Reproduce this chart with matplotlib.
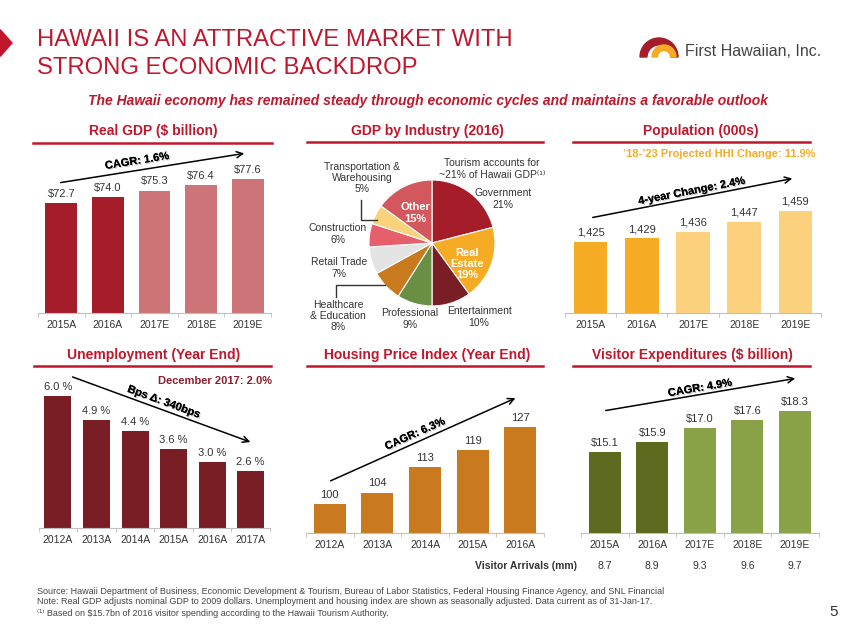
import numpy as np
import matplotlib
matplotlib.use('Agg')
import matplotlib.pyplot as plt
from matplotlib.patches import Polygon, Wedge, FancyArrowPatch
from matplotlib.lines import Line2D
import matplotlib.patheffects as pe

plt.rcParams['font.family'] = ['Liberation Sans', 'DejaVu Sans']
NARROW = ['Liberation Sans Narrow', 'Liberation Sans', 'DejaVu Sans']

##############################  DATA  ##############################
gdp_years = ['2015A', '2016A', '2017E', '2018E', '2019E']
gdp_vals = [72.7, 74.0, 75.3, 76.4, 77.6]

industry_names = ['Government', 'Real Estate', 'Entertainment', 'Professional',
                  'Healthcare & Education', 'Retail Trade', 'Construction',
                  'Transportation & Warehousing', 'Other']
industry_pct = [21, 19, 10, 9, 8, 7, 6, 5, 15]

pop_years = ['2015A', '2016A', '2017E', '2018E', '2019E']
pop_vals = [1425, 1429, 1436, 1447, 1459]

unemp_years = ['2012A', '2013A', '2014A', '2015A', '2016A', '2017A']
unemp_vals = [6.0, 4.9, 4.4, 3.6, 3.0, 2.6]

hpi_years = ['2012A', '2013A', '2014A', '2015A', '2016A']
hpi_vals = [100, 104, 113, 119, 127]

visitor_years = ['2015A', '2016A', '2017E', '2018E', '2019E']
visitor_exp = [15.1, 15.9, 17.0, 17.6, 18.3]
visitor_arrivals = [8.7, 8.9, 9.3, 9.6, 9.7]

##############################  STYLE  ##############################
RED = '#C0172C'
TXT = '#333333'
W, H = 847, 635

fig = plt.figure(figsize=(W / 100, H / 100), dpi=100)
fig.patch.set_facecolor('white')


def fx(x):
    return x / W


def fy(y):
    return 1 - y / H


def add_ax(x0, y0, x1, y1):
    return fig.add_axes([x0 / W, 1 - y1 / H, (x1 - x0) / W, (y1 - y0) / H])


def panel_title(text, xc, y, x0, x1, yl):
    fig.text(fx(xc), fy(y), text, ha='center', va='center', fontsize=10,
             fontweight='bold', color=RED)
    fig.add_artist(Line2D([fx(x0), fx(x1)], [fy(yl), fy(yl)], color=RED, lw=1.8))


def bar_panel(x0, x1, ytop, ybase, ylim, cats, vals, colors, fmt, width):
    ax = add_ax(x0, ytop, x1, ybase)
    x = np.arange(len(cats))
    ax.bar(x, vals, width=width, color=colors)
    ax.set_xlim(-0.5, len(cats) - 0.5)
    ax.set_ylim(*ylim)
    for s in ['top', 'right', 'left']:
        ax.spines[s].set_visible(False)
    ax.spines['bottom'].set_color('#bfbfbf')
    ax.set_yticks([])
    ax.set_xticks(x)
    ax.set_xticklabels(cats, fontsize=7.5, color=TXT)
    ax.tick_params(axis='x', length=0, pad=5)
    ax.set_xticks(np.arange(len(cats) + 1) - 0.5, minor=True)
    ax.tick_params(axis='x', which='minor', length=3, color='#bfbfbf')
    for xi, v in zip(x, vals):
        ax.annotate(fmt(v), (xi, v), xytext=(0, 3), textcoords='offset points',
                    ha='center', va='bottom', fontsize=8, color=TXT)
    ax.patch.set_alpha(0)
    return ax


def trend_arrow(p0, p1, text, tpos):
    arr = FancyArrowPatch((fx(p0[0]), fy(p0[1])), (fx(p1[0]), fy(p1[1])),
                          transform=fig.transFigure, arrowstyle='->',
                          mutation_scale=11, lw=1.1, color='black')
    fig.add_artist(arr)
    ang = np.degrees(np.arctan2(p0[1] - p1[1], p1[0] - p0[0]))
    fig.text(fx(tpos[0]), fy(tpos[1]), text, rotation=ang, rotation_mode='anchor',
             ha='center', va='center', fontsize=8, fontweight='bold', color='black',
             path_effects=[pe.withSimplePatchShadow(offset=(0.8, -0.8), shadow_rgbFace='#999999', alpha=0.6),
                           pe.Normal()])


##############################  HEADER  ##############################
fig.add_artist(Polygon([(fx(0), fy(30)), (fx(0.5), fy(30)), (fx(12), fy(43)),
                        (fx(0.5), fy(56)), (fx(0), fy(56))], closed=True,
                       transform=fig.transFigure, color=RED))
fig.text(fx(37), fy(40), 'HAWAII IS AN ATTRACTIVE MARKET WITH', fontsize=17.2,
         family=NARROW, color=RED, ha='left', va='center')
fig.text(fx(37), fy(68), 'STRONG ECONOMIC BACKDROP', fontsize=17.2,
         family=NARROW, color=RED, ha='left', va='center')
fig.text(fx(428), fy(101),
         'The Hawaii economy has remained steady through economic cycles and maintains a favorable outlook',
         fontsize=10, fontweight='bold', fontstyle='italic', color=RED, ha='center', va='center')

# logo
lax = add_ax(638, 36, 684, 59)
lax.set_xlim(0, 46)
lax.set_ylim(0, 23)
lax.axis('off')
lax.add_patch(Wedge((21, 2), 19, 0, 180, width=7, color='#A51D29'))
lax.add_patch(Wedge((26, 2), 12, 0, 180, width=5.5, color='#F6AB24'))
fig.text(fx(685), fy(52), 'First Hawaiian, Inc.', fontsize=11.5, family=NARROW,
         color='#444444', ha='left', va='center')

##############################  REAL GDP  ##############################
panel_title('Real GDP ($ billion)', 153, 131, 33, 272, 143)
bar_panel(38, 271, 150, 313, (50.3, 83.6), gdp_years, gdp_vals,
          ['#A51D29'] * 2 + ['#CD7479'] * 3, lambda v: '$%.1f' % v, 0.68)
trend_arrow((58, 183), (247, 153), 'CAGR: 1.6%', (137, 161))

##############################  GDP BY INDUSTRY  ##############################
panel_title('GDP by Industry (2016)', 427, 131, 307, 543, 142)
pie_colors = ['#A51D29', '#F6AB24', '#7A1E26', '#6B8E45', '#C97A1E',
              '#E3E3E3', '#E5606B', '#FBD27C', '#D2585E']
pcx, pcy, pr = 432, 243, 63
pax = add_ax(pcx - pr, pcy - pr, pcx + pr, pcy + pr)
pax.pie(industry_pct, colors=pie_colors, startangle=90, counterclock=False,
        wedgeprops=dict(edgecolor='white', linewidth=0.8))
pax.set_xlim(-1, 1)
pax.set_ylim(-1, 1)


def ptext(xp, yp, s, color=TXT, fontweight='normal', fontsize=7.5):
    pax.text((xp - pcx) / pr, (pcy - yp) / pr, s, ha='center', va='center',
             fontsize=fontsize, color=color, fontweight=fontweight,
             clip_on=False, linespacing=1.15)


ptext(362, 178, 'Transportation &\nWarehousing\n%d%%' % industry_pct[7])
ptext(492, 169, 'Tourism accounts for\n~21% of Hawaii GDP\u207d\u00b9\u207e')
ptext(503, 199, 'Government\n%d%%' % industry_pct[0])
ptext(415, 213, 'Other\n%d%%' % industry_pct[8], color='white', fontweight='bold', fontsize=8)
ptext(467, 264, 'Real\nEstate\n%d%%' % industry_pct[1], color='white', fontweight='bold', fontsize=8)
ptext(338, 234, 'Construction\n%d%%' % industry_pct[6])
ptext(339, 268, 'Retail Trade\n%d%%' % industry_pct[5])
ptext(338, 316, 'Healthcare\n& Education\n%d%%' % industry_pct[4])
ptext(410, 319, 'Professional\n%d%%' % industry_pct[3])
ptext(479, 317, 'Entertainment\n%d%%' % industry_pct[2])


def pline(pts):
    xs = [(p[0] - pcx) / pr for p in pts]
    ys = [(pcy - p[1]) / pr for p in pts]
    pax.plot(xs, ys, color=TXT, lw=1, clip_on=False)


pline([(361, 200), (361, 220), (377, 220)])
pline([(336, 297), (336, 285), (385, 285)])

##############################  POPULATION  ##############################
panel_title('Population (000s)', 701, 131, 573, 810, 142)
fig.text(fx(815), fy(154), '\u201918-\u201923 Projected HHI Change: 11.9%', fontsize=8,
         fontweight='bold', color='#F6AB24', ha='right', va='center')
bar_panel(565, 821, 150, 313, (1347, 1526), pop_years, pop_vals,
          ['#F6AB24'] * 2 + ['#FCD17E'] * 3, lambda v: '{:,}'.format(v), 0.66)
trend_arrow((590, 218), (795, 178), '4-year Change: 2.4%', (692, 191))

##############################  UNEMPLOYMENT  ##############################
panel_title('Unemployment (Year End)', 154, 355, 34, 271, 366)
fig.text(fx(272), fy(381), 'December 2017: 2.0%', fontsize=8, fontweight='bold',
         color='#8B1E2B', ha='right', va='center')
bar_panel(38.7, 270, 370, 528, (0, 7.18), unemp_years, unemp_vals,
          ['#7A1E26'] * 6, lambda v: '%.1f %%' % v, 0.7)
trend_arrow((70, 376), (253, 443), 'Bps \u0394: 340bps', (164, 402))

##############################  HOUSING PRICE INDEX  ##############################
panel_title('Housing Price Index (Year End)', 427, 355, 307, 543, 366)
bar_panel(306, 544, 370, 533, (89.8, 147), hpi_years, hpi_vals,
          ['#C97A1E'] * 5, lambda v: '%d' % v, 0.67)
trend_arrow((328, 482), (518, 397), 'CAGR: 6.3%', (415, 434))

##############################  VISITOR EXPENDITURES  ##############################
panel_title('Visitor Expenditures ($ billion)', 692, 355, 573, 810, 366)
vax = bar_panel(581, 818.5, 370, 533, (8.8, 21.5), visitor_years, visitor_exp,
                ['#5D6A1F'] * 2 + ['#8AA247'] * 3, lambda v: '$%.1f' % v, 0.67)
trend_arrow((603, 411), (798, 378), 'CAGR: 4.9%', (700, 388))
fig.text(fx(577), fy(566), 'Visitor Arrivals (mm)', fontsize=7.5, fontweight='bold',
         color=TXT, ha='right', va='center')
for i, v in enumerate(visitor_arrivals):
    xc = 581 + (i + 0.5) * (818.5 - 581) / len(visitor_arrivals)
    fig.text(fx(xc), fy(566), '%.1f' % v, fontsize=7.5, color=TXT, ha='center', va='center')

##############################  FOOTNOTES  ##############################
foot = ['Source: Hawaii Department of Business, Economic Development & Tourism, Bureau of Labor Statistics, Federal Housing Finance Agency, and SNL Financial',
        'Note: Real GDP adjusts nominal GDP to 2009 dollars. Unemployment and housing index are shown as seasonally adjusted. Data current as of 31-Jan-17.',
        '\u207d\u00b9\u207e Based on $15.7bn of 2016 visitor spending according to the Hawaii Tourism Authority.']
for i, line in enumerate(foot):
    fig.text(fx(37), fy(591 + i * 11), line, fontsize=6.5, family=NARROW, color='#444444',
             ha='left', va='center')
fig.text(fx(838), fy(612), '5', fontsize=11, color='#333333', ha='right', va='center')

fig.savefig('out.png', dpi=100)
